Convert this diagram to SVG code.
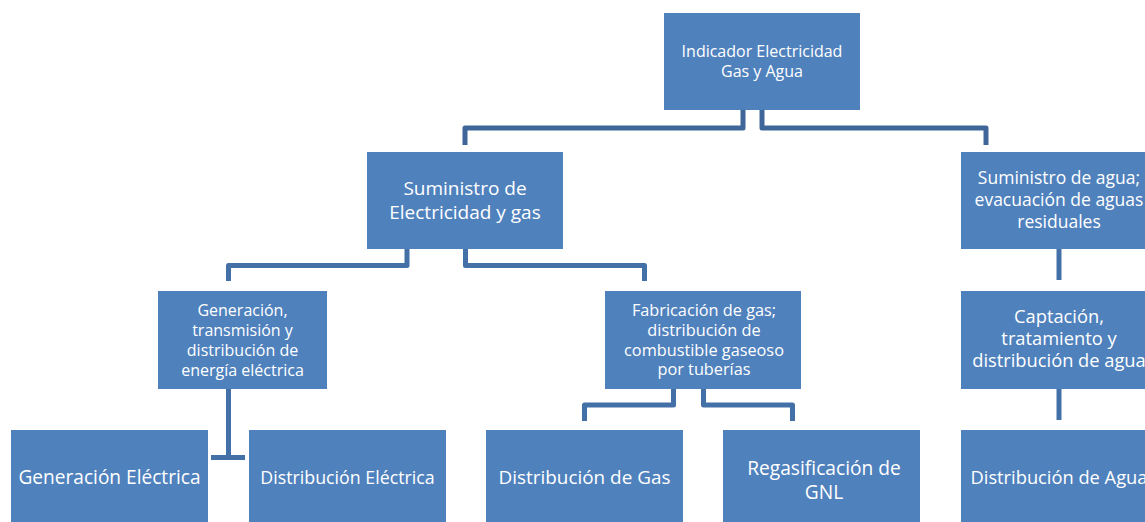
<svg xmlns="http://www.w3.org/2000/svg" width="1145" height="522" viewBox="0 0 1145 522">
<style>
.box{fill:#4F81BD;}
.t{fill:#FFFFFF;font-family:"Open Sans","Liberation Sans",sans-serif;text-anchor:middle;}
.c{fill:none;stroke:#4470A8;stroke-width:5;stroke-linejoin:round;}
.c1{stroke:#3F6699;}
</style>
<rect width="1145" height="522" fill="#FFFFFF"/>
<g id="connectors">
<path class="c c1" d="M743 110 V128 H465 V145"/>
<path class="c c1" d="M762 110 V128 H986 V145"/>
<path class="c" d="M407 249 V265.5 H228.5 V281"/>
<path class="c" d="M465.5 249 V265.5 H644.5 V281"/>
<path class="c" d="M228.5 389 V457.5 M211 457.5 H245"/>
<path class="c" d="M673.5 389 V405 H584.5 V421"/>
<path class="c" d="M703.5 389 V405 H792.5 V421"/>
<path class="c" d="M1059 249 V280"/>
<path class="c" d="M1059 389 V420"/>
</g>
<g id="n-root"><rect class="box" x="664" y="13" width="196" height="97"/>
<text class="t" font-size="16" x="762" y="57">Indicador Electricidad</text>
<text class="t" font-size="16" x="762" y="77">Gas y Agua</text></g>
<g id="n-suministro-elec"><rect class="box" x="367" y="152" width="196" height="97"/>
<text class="t" font-size="19" x="465" y="195">Suministro de</text>
<text class="t" font-size="19" x="465" y="219">Electricidad y gas</text></g>
<g id="n-suministro-agua"><rect class="box" x="961" y="152" width="196" height="97"/>
<text class="t" font-size="17.5" x="1059" y="184">Suministro de agua;</text>
<text class="t" font-size="17.5" x="1059" y="206">evacuación de aguas</text>
<text class="t" font-size="17.5" x="1059" y="228">residuales</text></g>
<g id="n-generacion-trans"><rect class="box" x="158" y="291" width="169" height="98"/>
<text class="t" font-size="16" x="242.5" y="316">Generación,</text>
<text class="t" font-size="16" x="242.5" y="336">transmisión y</text>
<text class="t" font-size="16" x="242.5" y="356">distribución de</text>
<text class="t" font-size="16" x="242.5" y="376">energía eléctrica</text></g>
<g id="n-fabricacion"><rect class="box" x="605" y="291" width="196" height="98"/>
<text class="t" font-size="16.3" x="704" y="316">Fabricación de gas;</text>
<text class="t" font-size="16.3" x="704" y="336">distribución de</text>
<text class="t" font-size="16.3" x="704" y="356">combustible gaseoso</text>
<text class="t" font-size="16.3" x="704" y="375">por tuberías</text></g>
<g id="n-captacion"><rect class="box" x="961" y="291" width="196" height="98"/>
<text class="t" font-size="18.3" x="1059" y="323">Captación,</text>
<text class="t" font-size="18.3" x="1059" y="345">tratamiento y</text>
<text class="t" font-size="18.3" x="1059" y="367">distribución de agua</text></g>
<g id="n-gen-elec"><rect class="box" x="11" y="430" width="197" height="95"/>
<text class="t" font-size="19.1" x="109.5" y="484">Generación Eléctrica</text></g>
<g id="n-dist-elec"><rect class="box" x="249" y="430" width="197" height="95"/>
<text class="t" font-size="17.8" x="347.5" y="484">Distribución Eléctrica</text></g>
<g id="n-dist-gas"><rect class="box" x="486" y="430" width="197" height="95"/>
<text class="t" font-size="18.9" x="584.5" y="484">Distribución de Gas</text></g>
<g id="n-regas"><rect class="box" x="723" y="430" width="197" height="95"/>
<text class="t" font-size="19.2" x="824" y="475">Regasificación de</text>
<text class="t" font-size="19.2" x="824" y="499">GNL</text></g>
<g id="n-dist-agua"><rect class="box" x="961" y="430" width="197" height="95"/>
<text class="t" font-size="18.3" x="1059" y="484">Distribución de Agua</text></g>
</svg>
